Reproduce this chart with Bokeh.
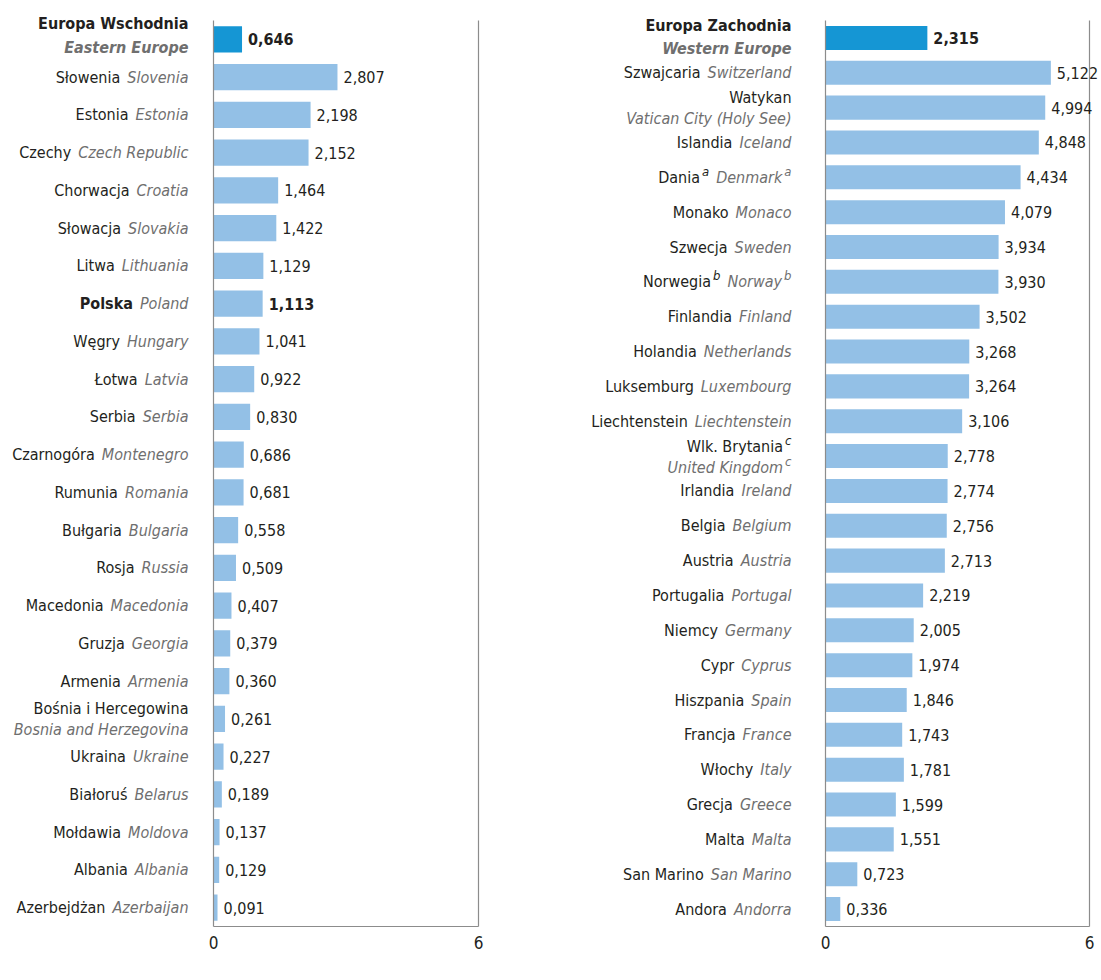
import glob, os, struct
from bokeh.plotting import figure
from bokeh.layouts import row
from bokeh.models import ColumnDataSource, Range1d, FixedTicker
from bokeh.core.properties import value
from bokeh.embed import file_html
from bokeh.resources import INLINE

# ---------------- data ----------------
east_header_pl = "Europa Wschodnia"
east_header_en = "Eastern Europe"
east_header_val = 0.646
east_pl = ["Słowenia", "Estonia", "Czechy", "Chorwacja", "Słowacja", "Litwa", "Polska",
           "Węgry", "Łotwa", "Serbia", "Czarnogóra", "Rumunia", "Bułgaria", "Rosja",
           "Macedonia", "Gruzja", "Armenia", "Bośnia i Hercegowina", "Ukraina",
           "Białoruś", "Mołdawia", "Albania", "Azerbejdżan"]
east_en = ["Slovenia", "Estonia", "Czech Republic", "Croatia", "Slovakia", "Lithuania",
           "Poland", "Hungary", "Latvia", "Serbia", "Montenegro", "Romania", "Bulgaria",
           "Russia", "Macedonia", "Georgia", "Armenia", "Bosnia and Herzegovina",
           "Ukraine", "Belarus", "Moldova", "Albania", "Azerbaijan"]
east_val = [2.807, 2.198, 2.152, 1.464, 1.422, 1.129, 1.113, 1.041, 0.922, 0.830, 0.686,
            0.681, 0.558, 0.509, 0.407, 0.379, 0.360, 0.261, 0.227, 0.189, 0.137, 0.129,
            0.091]
east_note = [""] * len(east_pl)
east_wrapped = ["Bośnia i Hercegowina"]
east_bold = ["Polska"]

west_header_pl = "Europa Zachodnia"
west_header_en = "Western Europe"
west_header_val = 2.315
west_pl = ["Szwajcaria", "Watykan", "Islandia", "Dania", "Monako", "Szwecja", "Norwegia",
           "Finlandia", "Holandia", "Luksemburg", "Liechtenstein", "Wlk. Brytania",
           "Irlandia", "Belgia", "Austria", "Portugalia", "Niemcy", "Cypr", "Hiszpania",
           "Francja", "Włochy", "Grecja", "Malta", "San Marino", "Andora"]
west_en = ["Switzerland", "Vatican City (Holy See)", "Iceland", "Denmark", "Monaco",
           "Sweden", "Norway", "Finland", "Netherlands", "Luxembourg", "Liechtenstein",
           "United Kingdom", "Ireland", "Belgium", "Austria", "Portugal", "Germany",
           "Cyprus", "Spain", "France", "Italy", "Greece", "Malta", "San Marino", "Andorra"]
west_val = [5.122, 4.994, 4.848, 4.434, 4.079, 3.934, 3.930, 3.502, 3.268, 3.264, 3.106,
            2.778, 2.774, 2.756, 2.713, 2.219, 2.005, 1.974, 1.846, 1.743, 1.781, 1.599,
            1.551, 0.723, 0.336]
west_note = ["", "", "", "a", "", "", "b", "", "", "", "", "c", "", "", "", "", "", "", "",
             "", "", "", "", "", ""]
west_wrapped = ["Watykan", "Wlk. Brytania"]
west_bold = []

x_ticks = [0, 6]

# ---------------- font measurement ----------------
def _u16(d, o): return struct.unpack(">H", d[o:o + 2])[0]
def _u32(d, o): return struct.unpack(">I", d[o:o + 4])[0]

class FontMetrics:
    def __init__(self, path):
        d = open(path, "rb").read()
        base = _u32(d, 12) if d[:4] == b"ttcf" else 0
        tabs = {}
        for i in range(_u16(d, base + 4)):
            o = base + 12 + 16 * i
            tabs[d[o:o + 4].decode("latin1")] = _u32(d, o + 8)
        self.d = d
        self.upem = _u16(d, tabs["head"] + 18)
        nh = _u16(d, tabs["hhea"] + 34)
        hm = tabs["hmtx"]
        self.adv = [_u16(d, hm + 4 * i) for i in range(nh)]
        cm = tabs["cmap"]
        self.sub = None
        for i in range(_u16(d, cm + 2)):
            pid = _u16(d, cm + 4 + 8 * i)
            eid = _u16(d, cm + 6 + 8 * i)
            so = cm + _u32(d, cm + 8 + 8 * i)
            if _u16(d, so) == 4 and (pid == 0 or (pid == 3 and eid == 1)):
                self.sub = so
                break

    def gid(self, c):
        d, so = self.d, self.sub
        if so is None:
            return 0
        segx2 = _u16(d, so + 6)
        ends = so + 14
        starts = ends + segx2 + 2
        deltas = starts + segx2
        ros = deltas + segx2
        for s in range(segx2 // 2):
            if c <= _u16(d, ends + 2 * s):
                st = _u16(d, starts + 2 * s)
                if c < st:
                    return 0
                de = _u16(d, deltas + 2 * s)
                ro = _u16(d, ros + 2 * s)
                if ro == 0:
                    return (c + de) & 0xFFFF
                g = _u16(d, ros + 2 * s + ro + 2 * (c - st))
                return (g + de) & 0xFFFF if g else 0
        return 0

    def width(self, text, size):
        w = 0
        for ch in text:
            g = self.gid(ord(ch))
            w += self.adv[min(g, len(self.adv) - 1)]
        return w * size / self.upem

_files = {}
for root in ["/usr/share/fonts", "/usr/local/share/fonts",
             os.path.expanduser("~/.fonts"), os.path.expanduser("~/.local/share/fonts")]:
    for pth in glob.glob(os.path.join(root, "**", "*.tt[fc]"), recursive=True):
        _files.setdefault(os.path.basename(pth), pth)

CANDIDATES = [("Liberation Sans Narrow", "LiberationSansNarrow-Italic.ttf", 19),
              ("DejaVu Sans Condensed", "DejaVuSansCondensed-Oblique.ttf", 16),
              ("Roboto", "Roboto-Italic.ttf", 17)]
FONT, FS, METRICS = "Liberation Sans Narrow", 19, None
for fam, fname, size in CANDIDATES:
    if fname in _files:
        try:
            METRICS = FontMetrics(_files[fname])
            FONT, FS = fam, size
            break
        except Exception:
            METRICS = None

def text_w(t, size):
    if METRICS is None:
        return 0.45 * size * len(t)
    return METRICS.width(t, size)

# ---------------- styling ----------------
LINE_TOP = 20          # px from top of canvas where the frame lines begin
FRAME_BOTTOM = 926     # px of the frame's bottom line
FRAME_H = FRAME_BOTTOM + 1
INK = "#231f20"
GREY = "#6f6f6f"
BAR = "#93c0e6"
BAR_HEAD = "#1596d4"
AXIS = "#8c8c8c"
SUP_FS = 13
GAP = 7

def fmt(v):
    return f"{v:.3f}".replace(".", ",")

def panel(hpl, hen, hval, pl, en, vals, note, wrapped, bold, fw, zero_px, unit_px,
          label_dx, head_off):
    n = len(pl) + 1
    row_px = (FRAME_BOTTOM - LINE_TOP) / n
    xr = Range1d(-zero_px / unit_px, (fw - zero_px) / unit_px)
    yr = Range1d(n - 0.5 + 1.0 / row_px, -0.5 - LINE_TOP / row_px)
    p = figure(frame_width=fw, frame_height=FRAME_H, x_range=xr, y_range=yr,
               y_axis_location=None, toolbar_location=None, output_backend="svg",
               min_border_left=0, min_border_right=0, min_border_top=0,
               min_border_bottom=0)
    p.outline_line_color = None
    p.grid.visible = False
    p.background_fill_color = "white"
    p.border_fill_color = "white"

    ys = list(range(1, n))
    # bars
    p.hbar(y=ys, right=vals, left=0, height=0.69, color=BAR, line_color=None)
    p.hbar(y=[0], right=[hval], left=0, height=0.69, color=BAR_HEAD, line_color=None)

    # frame lines (left, right, bottom)
    top, bot = -0.5, n - 0.5
    p.segment(x0=[0, x_ticks[-1], 0], y0=[top, top, bot],
              x1=[0, x_ticks[-1], x_ticks[-1]], y1=[bot, bot, bot],
              line_color=AXIS, line_width=1.2)

    # value labels
    vsrc = ColumnDataSource(dict(
        x=[hval] + list(vals), y=[0] + ys,
        t=[fmt(hval)] + [fmt(v) for v in vals],
        st=["bold"] + ["bold" if name in bold else "normal" for name in pl]))
    p.text(x="x", y="y", text="t", source=vsrc, x_offset=6, text_align="left",
           text_baseline="middle", text_font=value(FONT), text_font_size=f"{FS}px",
           text_font_style="st", text_color=INK)

    lx = -label_dx / unit_px
    # header
    p.text(x=[lx, lx], y=[0, 0], text=[hpl, hen], y_offset=head_off,
           text_align="right", text_baseline="middle", text_font=value(FONT),
           text_font_size=f"{FS}px", text_font_style=["bold", "bold italic"],
           text_color=[INK, GREY])

    pl_y, pl_t, pl_xo, pl_yo, pl_st = [], [], [], [], []
    en_y, en_t, en_xo, en_yo = [], [], [], []
    sp_y, sp_t, sp_xo, sp_yo, sp_c = [], [], [], [], []
    for y, a, b, s in zip(ys, pl, en, note):
        sup_w = text_w(s, SUP_FS) + 2 if s else 0
        if a in wrapped:
            en_y.append(y); en_t.append(b); en_xo.append(-sup_w); en_yo.append(11)
            pl_y.append(y); pl_t.append(a); pl_xo.append(-sup_w); pl_yo.append(-10)
            if s:
                sp_y += [y, y]; sp_t += [s, s]; sp_xo += [0, 0]
                sp_yo += [-16, 5]; sp_c += [INK, GREY]
        else:
            ew = text_w(b, FS)
            en_y.append(y); en_t.append(b); en_xo.append(-sup_w); en_yo.append(0)
            pl_y.append(y); pl_t.append(a); pl_xo.append(-(sup_w + ew + GAP + sup_w))
            pl_yo.append(0)
            if s:
                sp_y += [y, y]; sp_t += [s, s]
                sp_xo += [-(sup_w + ew + GAP), 0]
                sp_yo += [-6, -6]; sp_c += [INK, GREY]
        pl_st.append("bold" if a in bold else "normal")

    psrc = ColumnDataSource(dict(x=[lx] * len(pl_y), y=pl_y, t=pl_t, xo=pl_xo, yo=pl_yo,
                                 st=pl_st))
    p.text(x="x", y="y", text="t", x_offset="xo", y_offset="yo", source=psrc,
           text_align="right", text_baseline="middle", text_font=value(FONT),
           text_font_size=f"{FS}px", text_font_style="st", text_color=INK)
    esrc = ColumnDataSource(dict(x=[lx] * len(en_y), y=en_y, t=en_t, xo=en_xo, yo=en_yo))
    p.text(x="x", y="y", text="t", x_offset="xo", y_offset="yo", source=esrc,
           text_align="right", text_baseline="middle", text_font=value(FONT),
           text_font_size=f"{FS}px", text_font_style="italic", text_color=GREY)
    if sp_y:
        ssrc = ColumnDataSource(dict(x=[lx] * len(sp_y), y=sp_y, t=sp_t, xo=sp_xo,
                                     yo=sp_yo, c=sp_c))
        p.text(x="x", y="y", text="t", x_offset="xo", y_offset="yo", source=ssrc,
               text_align="right", text_baseline="middle", text_font=value(FONT),
               text_font_size=f"{SUP_FS}px", text_font_style="italic", text_color="c")

    # x axis with only 0 and 6
    ax = p.xaxis[0]
    ax.ticker = FixedTicker(ticks=x_ticks)
    ax.axis_line_color = None
    ax.major_tick_line_color = None
    ax.minor_tick_line_color = None
    ax.major_tick_out = 0
    ax.major_tick_in = 0
    ax.major_label_standoff = 8
    ax.major_label_text_font = FONT
    ax.major_label_text_font_size = f"{FS + 1}px"
    ax.major_label_text_color = INK
    return p

p1 = panel(east_header_pl, east_header_en, east_header_val, east_pl, east_en, east_val,
           east_note, east_wrapped, east_bold, fw=508, zero_px=213, unit_px=265 / 6,
           label_dx=25, head_off=[-16, 8])
p2 = panel(west_header_pl, west_header_en, west_header_val, west_pl, west_en, west_val,
           west_note, west_wrapped, west_bold, fw=592, zero_px=317, unit_px=264 / 6,
           label_dx=34, head_off=[-12, 11])

layout = row(p1, p2)
open("out.html", "w").write(file_html(layout, INLINE))
